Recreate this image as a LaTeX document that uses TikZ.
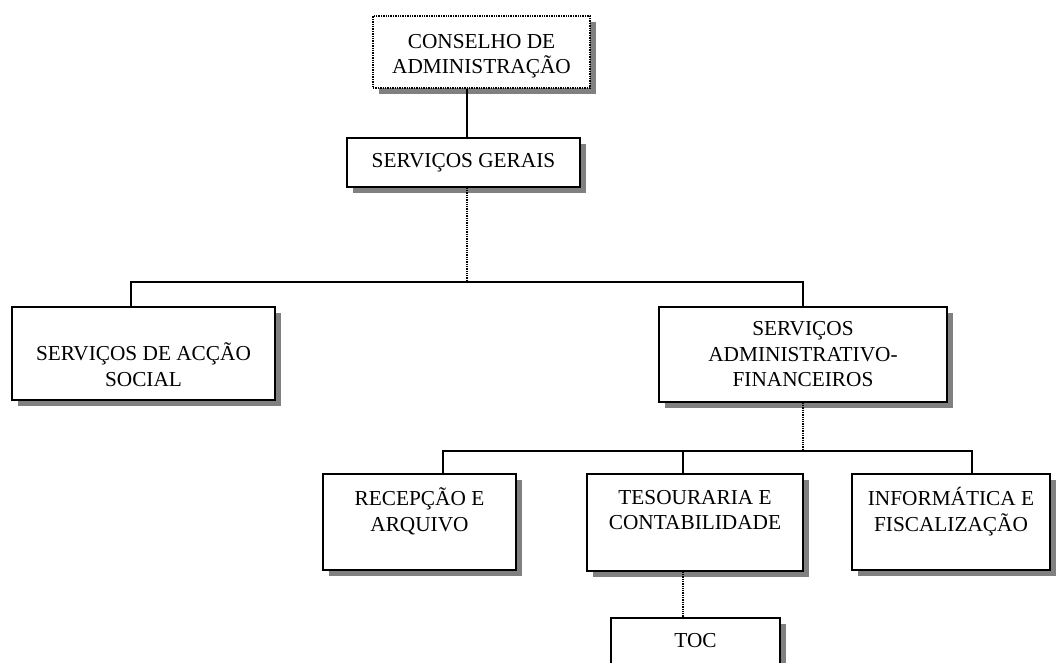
\documentclass[tikz,border=0pt]{standalone}
\usepackage{fontspec}
\setmainfont{Liberation Serif}
\usetikzlibrary{shadows}
\begin{document}
\begin{tikzpicture}[x=1pt,y=-1pt,
  orgbox/.style={draw=black, line width=1.4pt, fill=white, inner sep=0pt, align=center,
    font=\fontsize{21.3}{25.5}\selectfont,
    drop shadow={shadow xshift=6pt, shadow yshift=-6pt, fill=black!50, opacity=1}},
  dotbox/.style={orgbox, densely dotted, line width=1.2pt},
  link/.style={draw=black, line width=1.4pt},
  dotlink/.style={draw=black, line width=1.3pt, densely dotted}]
\useasboundingbox (0,0) rectangle (1060,662);
\clip (0,0) rectangle (1060,662);
% boxes
\node[dotbox, minimum width=217pt, minimum height=72pt] (cons) at (481.5,52) {\strut\\[-20.5pt]CONSELHO DE\\ADMINISTRAÇÃO};
\node[orgbox, minimum width=233pt, minimum height=49pt] (gerais) at (463.5,162.5) {SERVIÇOS GERAIS};
\node[orgbox, minimum width=263pt, minimum height=93pt] (social) at (143.5,353.5) {\strut\\[-3.5pt]SERVIÇOS DE ACÇÃO\\SOCIAL};
\node[orgbox, minimum width=288pt, minimum height=95pt] (adfin) at (803,354.5) {SERVIÇOS\\ADMINISTRATIVO-\\FINANCEIROS};
\node[orgbox, minimum width=193pt, minimum height=96pt] (recep) at (419.5,522) {RECEPÇÃO E\\ARQUIVO\\[-8pt]\strut};
\node[orgbox, minimum width=216pt, minimum height=97pt] (tesour) at (695,522.5) {TESOURARIA E\\CONTABILIDADE\\[-8pt]\strut};
\node[orgbox, minimum width=198pt, minimum height=96pt] (inform) at (951,522) {INFORMÁTICA E\\FISCALIZAÇÃO\\[-8pt]\strut};
\node[orgbox, minimum width=169pt, minimum height=90pt] (toc) at (695.5,663) {TOC\\\strut\\[-14pt]\strut};
% junctions
\coordinate (b1L) at (131,282);
\coordinate (b1M) at (467,282);
\coordinate (b1R) at (803,282);
\coordinate (b2L) at (443,451);
\coordinate (b2C) at (683,451);
\coordinate (b2M) at (803,451);
\coordinate (b2R) at (972,451);
% connectors
\draw[link] (cons.south -| b1M) -- (gerais.north -| b1M);
\draw[dotlink] (gerais.south -| b1M) -- (b1M);
\draw[link] (social.north -| b1L) -- (b1L) -- (b1R) -- (adfin.north -| b1R);
\draw[dotlink] (adfin.south -| b2M) -- (b2M);
\draw[link] (recep.north -| b2L) -- (b2L) -- (b2R) -- (inform.north -| b2R);
\draw[link] (b2C) -- (tesour.north -| b2C);
\draw[dotlink] (tesour.south -| b2C) -- (toc.north -| b2C);
\end{tikzpicture}
\end{document}
